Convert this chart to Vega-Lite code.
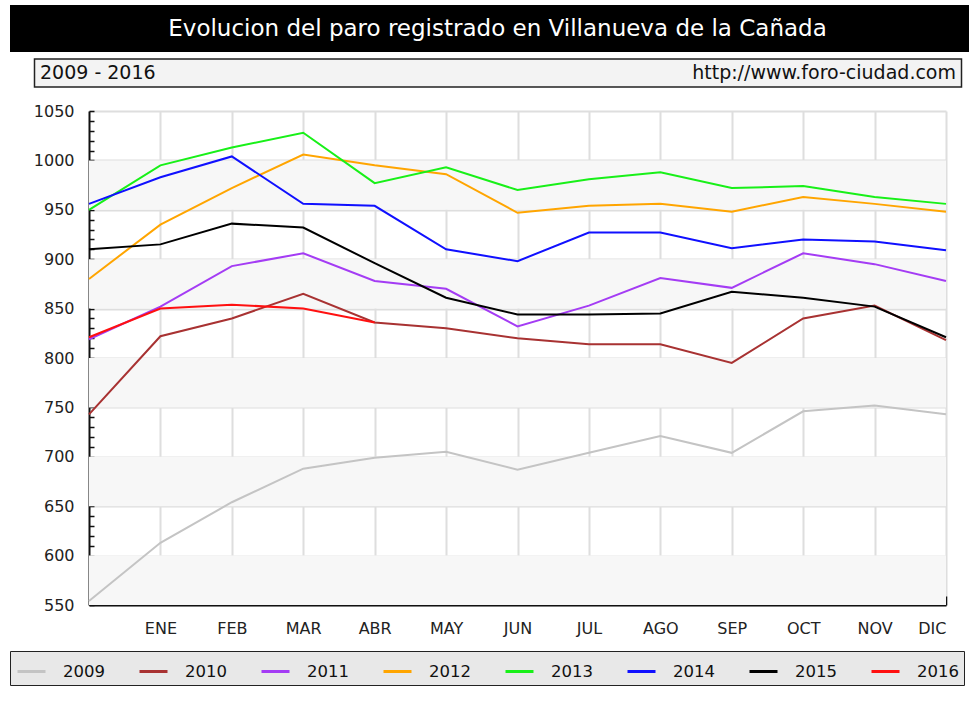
{
  "$schema": "https://vega.github.io/schema/vega-lite/v6.json",
  "background": "white",
  "padding": {"left": 9, "top": 5, "right": 0, "bottom": 0},
  "spacing": 15,
  "center": true,
  "config": {
    "font": "DejaVu Sans",
    "view": {"stroke": null},
    "axis": {"labelFont": "DejaVu Sans", "labelColor": "#222", "domainColor": "#111", "domainWidth": 2, "tickColor": "#111", "tickWidth": 1.5},
    "legend": {"labelFont": "DejaVu Sans"}
  },
  "vconcat": [
    {
      "spacing": 6,
      "center": true,
      "vconcat": [
        {
          "spacing": 10,
          "hconcat": [
            {
              "width": 975,
              "height": 47,
              "view": {"fill": "#000000", "stroke": null},
              "data": {"values": [{"t": "Evolucion del paro registrado en Villanueva de la Cañada"}]},
              "mark": {"type": "text", "color": "white", "font": "DejaVu Sans", "fontSize": 23},
              "encoding": {"text": {"field": "t", "type": "nominal"}}
            },
            {"width": 34, "height": 47, "data": {"values": []}, "mark": "point"}
          ]
        },
        {
          "spacing": 10,
          "hconcat": [
            {
              "width": 927,
              "height": 28,
              "view": {"fill": "#f3f3f3", "stroke": "#222", "strokeWidth": 1.5},
              "layer": [
                {
                  "data": {"values": [{"label": "2009 - 2016"}]},
                  "mark": {"type": "text", "align": "left", "fontSize": 19, "color": "#111"},
                  "encoding": {
                    "x": {"datum": "left", "type": "nominal", "scale": {"type": "point", "domain": ["left", "right"], "padding": 0.006}, "axis": null},
                    "text": {"field": "label", "type": "nominal"}
                  }
                },
                {
                  "data": {"values": [{"label": "http://www.foro-ciudad.com"}]},
                  "mark": {"type": "text", "align": "right", "fontSize": 19, "color": "#111"},
                  "encoding": {
                    "x": {"datum": "right", "type": "nominal", "scale": {"type": "point", "domain": ["left", "right"], "padding": 0.006}, "axis": null},
                    "text": {"field": "label", "type": "nominal"}
                  }
                }
              ]
            },
            {"width": 32, "height": 28, "data": {"values": []}, "mark": "point"}
          ]
        }
      ]
    },
    {
      "width": 857,
      "height": 494,
      "layer": [
        {
          "data": {"values": [
            {"lo": 550, "hi": 600}, {"lo": 650, "hi": 700}, {"lo": 750, "hi": 800}, {"lo": 850, "hi": 900}, {"lo": 950, "hi": 1000}
          ]},
          "mark": {"type": "rect", "color": "#f7f7f7"},
          "encoding": {
            "y": {"field": "lo", "type": "quantitative", "scale": {"domain": [550, 1050], "nice": false, "zero": false}},
            "y2": {"field": "hi"}
          }
        },
        {
          "data": {"values": [
            {"year": "2009", "m": 0, "v": 554}, {"year": "2009", "m": 1, "v": 613}, {"year": "2009", "m": 2, "v": 654}, {"year": "2009", "m": 3, "v": 688}, {"year": "2009", "m": 4, "v": 699}, {"year": "2009", "m": 5, "v": 705}, {"year": "2009", "m": 6, "v": 687}, {"year": "2009", "m": 7, "v": 704}, {"year": "2009", "m": 8, "v": 721}, {"year": "2009", "m": 9, "v": 704}, {"year": "2009", "m": 10, "v": 746}, {"year": "2009", "m": 11, "v": 752}, {"year": "2009", "m": 12, "v": 743},
            {"year": "2010", "m": 0, "v": 743}, {"year": "2010", "m": 1, "v": 822}, {"year": "2010", "m": 2, "v": 840}, {"year": "2010", "m": 3, "v": 865}, {"year": "2010", "m": 4, "v": 836}, {"year": "2010", "m": 5, "v": 830}, {"year": "2010", "m": 6, "v": 820}, {"year": "2010", "m": 7, "v": 814}, {"year": "2010", "m": 8, "v": 814}, {"year": "2010", "m": 9, "v": 795}, {"year": "2010", "m": 10, "v": 840}, {"year": "2010", "m": 11, "v": 853}, {"year": "2010", "m": 12, "v": 818},
            {"year": "2011", "m": 0, "v": 819}, {"year": "2011", "m": 1, "v": 852}, {"year": "2011", "m": 2, "v": 893}, {"year": "2011", "m": 3, "v": 906}, {"year": "2011", "m": 4, "v": 878}, {"year": "2011", "m": 5, "v": 870}, {"year": "2011", "m": 6, "v": 832}, {"year": "2011", "m": 7, "v": 853}, {"year": "2011", "m": 8, "v": 881}, {"year": "2011", "m": 9, "v": 871}, {"year": "2011", "m": 10, "v": 906}, {"year": "2011", "m": 11, "v": 895}, {"year": "2011", "m": 12, "v": 878},
            {"year": "2012", "m": 0, "v": 880}, {"year": "2012", "m": 1, "v": 935}, {"year": "2012", "m": 2, "v": 972}, {"year": "2012", "m": 3, "v": 1006}, {"year": "2012", "m": 4, "v": 995}, {"year": "2012", "m": 5, "v": 986}, {"year": "2012", "m": 6, "v": 947}, {"year": "2012", "m": 7, "v": 954}, {"year": "2012", "m": 8, "v": 956}, {"year": "2012", "m": 9, "v": 948}, {"year": "2012", "m": 10, "v": 963}, {"year": "2012", "m": 11, "v": 956}, {"year": "2012", "m": 12, "v": 948},
            {"year": "2013", "m": 0, "v": 950}, {"year": "2013", "m": 1, "v": 995}, {"year": "2013", "m": 2, "v": 1013}, {"year": "2013", "m": 3, "v": 1028}, {"year": "2013", "m": 4, "v": 977}, {"year": "2013", "m": 5, "v": 993}, {"year": "2013", "m": 6, "v": 970}, {"year": "2013", "m": 7, "v": 981}, {"year": "2013", "m": 8, "v": 988}, {"year": "2013", "m": 9, "v": 972}, {"year": "2013", "m": 10, "v": 974}, {"year": "2013", "m": 11, "v": 963}, {"year": "2013", "m": 12, "v": 956},
            {"year": "2014", "m": 0, "v": 956}, {"year": "2014", "m": 1, "v": 983}, {"year": "2014", "m": 2, "v": 1004}, {"year": "2014", "m": 3, "v": 956}, {"year": "2014", "m": 4, "v": 954}, {"year": "2014", "m": 5, "v": 910}, {"year": "2014", "m": 6, "v": 898}, {"year": "2014", "m": 7, "v": 927}, {"year": "2014", "m": 8, "v": 927}, {"year": "2014", "m": 9, "v": 911}, {"year": "2014", "m": 10, "v": 920}, {"year": "2014", "m": 11, "v": 918}, {"year": "2014", "m": 12, "v": 909},
            {"year": "2015", "m": 0, "v": 910}, {"year": "2015", "m": 1, "v": 915}, {"year": "2015", "m": 2, "v": 936}, {"year": "2015", "m": 3, "v": 932}, {"year": "2015", "m": 4, "v": 896}, {"year": "2015", "m": 5, "v": 861}, {"year": "2015", "m": 6, "v": 844}, {"year": "2015", "m": 7, "v": 844}, {"year": "2015", "m": 8, "v": 845}, {"year": "2015", "m": 9, "v": 867}, {"year": "2015", "m": 10, "v": 861}, {"year": "2015", "m": 11, "v": 852}, {"year": "2015", "m": 12, "v": 821},
            {"year": "2016", "m": 0, "v": 821}, {"year": "2016", "m": 1, "v": 850}, {"year": "2016", "m": 2, "v": 854}, {"year": "2016", "m": 3, "v": 850}, {"year": "2016", "m": 4, "v": 836}
          ]},
          "mark": {"type": "line", "strokeWidth": 2, "interpolate": "linear"},
          "encoding": {
            "x": {
              "field": "m", "type": "quantitative",
              "scale": {"domain": [0, 12], "nice": false, "zero": false},
              "axis": {
                "title": null, "values": [1, 2, 3, 4, 5, 6, 7, 8, 9, 10, 11, 12], "tickCount": 30,
                "labelExpr": "['','ENE','FEB','MAR','ABR','MAY','JUN','JUL','AGO','SEP','OCT','NOV','DIC'][datum.value]",
                "labelFontSize": 16, "labelPadding": 24, "tickSize": -9, "labelOverlap": false,
                "grid": true, "gridColor": "#dedede", "gridWidth": 2
              }
            },
            "y": {
              "field": "v", "type": "quantitative",
              "scale": {"domain": [550, 1050], "nice": false, "zero": false},
              "axis": {
                "title": null, "tickCount": 80, "labelOverlap": false, "minExtent": 79,
                "values": [550, 560, 570, 580, 590, 600, 610, 620, 630, 640, 650, 660, 670, 680, 690, 700, 710, 720, 730, 740, 750, 760, 770, 780, 790, 800, 810, 820, 830, 840, 850, 860, 870, 880, 890, 900, 910, 920, 930, 940, 950, 960, 970, 980, 990, 1000, 1010, 1020, 1030, 1040, 1050],
                "labelExpr": "datum.value % 50 === 0 ? '' + datum.value : ''",
                "labelFontSize": 16, "labelPadding": 20, "tickSize": -5,
                "grid": true, "gridColor": "#dedede", "gridWidth": 2,
                "gridOpacity": {"condition": {"test": "datum.value % 50 === 0", "value": 1}, "value": 0}
              }
            },
            "color": {
              "field": "year", "type": "nominal",
              "scale": {"domain": ["2009", "2010", "2011", "2012", "2013", "2014", "2015", "2016"], "range": ["#c4c4c4", "#a83232", "#a43cf4", "#ffa500", "#18f018", "#1010ff", "#000000", "#ff1010"]},
              "legend": {
                "title": " ", "titleOrient": "left", "titlePadding": 1, "titleFontSize": 16,
                "orient": "bottom", "direction": "horizontal", "columns": 8,
                "symbolType": "stroke", "symbolSize": 784, "symbolStrokeWidth": 3,
                "labelFontSize": 16.5, "labelColor": "#111", "labelOffset": 16, "columnPadding": 28,
                "fillColor": "#e8e8e8", "strokeColor": "#222", "padding": 5, "offset": 15
              }
            }
          }
        }
      ]
    }
  ]
}
